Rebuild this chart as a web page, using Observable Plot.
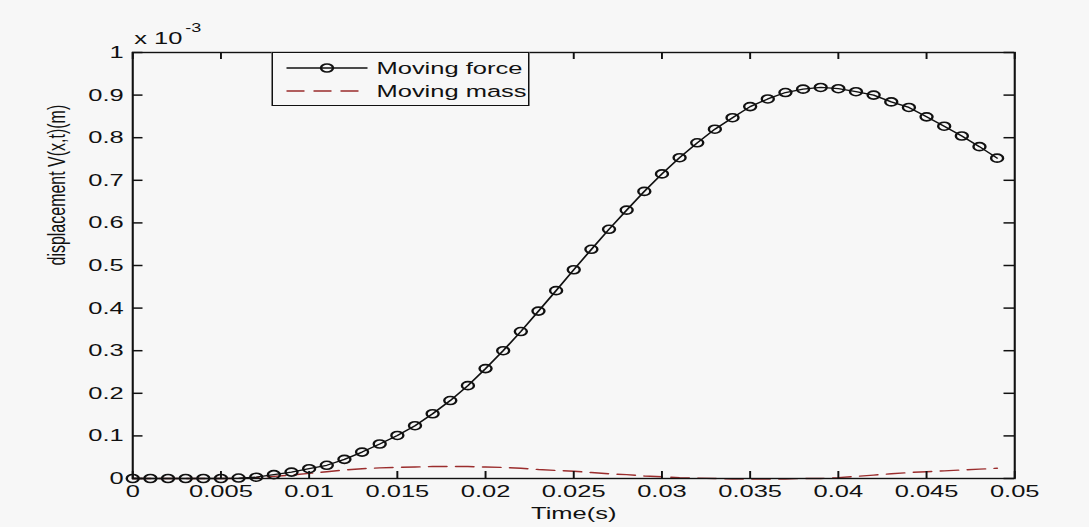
<!DOCTYPE html>
<html>
<head>
<meta charset="utf-8">
<script src="https://cdn.jsdelivr.net/npm/d3@7"></script>
<script src="https://cdn.jsdelivr.net/npm/@observablehq/plot@0.6"></script>
<style>
  html, body { margin: 0; padding: 0; background: #f7f7f7; overflow: hidden; }
  #wrap { position: relative; width: 726px; height: 527px; transform: scaleX(1.5); transform-origin: 0 0;
          font-family: "Liberation Sans", Arial, sans-serif; }
  #legend { position: absolute; box-sizing: border-box; border: 1.4px solid #111; background: #f7f7f7; }
</style>
</head>
<body>
<div id="wrap"></div>
<script>
// Time axis (s)
const time = [0, 0.001, 0.002, 0.003, 0.004, 0.005, 0.006, 0.007, 0.008, 0.009,
  0.010, 0.011, 0.012, 0.013, 0.014, 0.015, 0.016, 0.017, 0.018, 0.019,
  0.020, 0.021, 0.022, 0.023, 0.024, 0.025, 0.026, 0.027, 0.028, 0.029,
  0.030, 0.031, 0.032, 0.033, 0.034, 0.035, 0.036, 0.037, 0.038, 0.039,
  0.040, 0.041, 0.042, 0.043, 0.044, 0.045, 0.046, 0.047, 0.048, 0.049];

// Displacement, in units of 1e-3 m
const movingForce = [0.000, 0.000, 0.000, 0.000, 0.000, 0.000, 0.001, 0.003, 0.009, 0.015,
  0.023, 0.031, 0.045, 0.062, 0.081, 0.101, 0.124, 0.152, 0.183, 0.218,
  0.258, 0.300, 0.345, 0.393, 0.441, 0.490, 0.538, 0.585, 0.630, 0.674,
  0.715, 0.753, 0.788, 0.820, 0.847, 0.873, 0.891, 0.906, 0.914, 0.918,
  0.915, 0.908, 0.900, 0.884, 0.871, 0.849, 0.827, 0.804, 0.779, 0.752];

const movingMass = [0.000, 0.000, 0.000, 0.000, 0.000, 0.000, 0.000, 0.002, 0.005, 0.008,
  0.012, 0.016, 0.020, 0.023, 0.025, 0.026, 0.027, 0.028, 0.028, 0.028,
  0.027, 0.026, 0.024, 0.021, 0.019, 0.017, 0.014, 0.011, 0.009, 0.006,
  0.004, 0.002, 0.001, 0.000, -0.001, -0.001, -0.001, -0.001, 0.000, 0.000,
  0.002, 0.005, 0.008, 0.011, 0.014, 0.016, 0.018, 0.020, 0.022, 0.024];

const xTicks = [0, 0.005, 0.01, 0.015, 0.02, 0.025, 0.03, 0.035, 0.04, 0.045, 0.05];
const yTicks = [0, 0.1, 0.2, 0.3, 0.4, 0.5, 0.6, 0.7, 0.8, 0.9, 1];
const seriesNames = ["Moving force", "Moving mass"];
const xLabel = "Time(s)";
const yLabel = "displacement V(x,t)(m)";
const exponentBase = "x 10";
const exponent = "-3";

const forceData = time.map((t, i) => ({t, v: movingForce[i]}));
const massData = time.map((t, i) => ({t, v: movingMass[i]}));

const W = 726, H = 527, mL = 88, mR = 50, mT = 52, mB = 49;
const innerW = W - mL - mR, innerH = H - mT - mB;
const tickLen = 7;
const ink = "#111";
const massColor = "#9b2d2d";

const chart = Plot.plot({
  width: W, height: H,
  marginLeft: mL, marginRight: mR, marginTop: mT, marginBottom: mB,
  style: {background: "transparent", fontFamily: "'Liberation Sans', Arial, sans-serif", fontSize: "17px", color: ink, overflow: "visible"},
  x: {domain: [0, 0.05]},
  y: {domain: [0, 1]},
  marks: [
    Plot.line(massData, {x: "t", y: "v", stroke: massColor, strokeWidth: 1.4, strokeDasharray: "12,6"}),
    Plot.line(forceData, {x: "t", y: "v", stroke: ink, strokeWidth: 1.3}),
    Plot.dot(forceData, {x: "t", y: "v", r: 4, stroke: ink, strokeWidth: 1.6, fill: "none"}),
    Plot.tickX(xTicks, {x: d => d, insetTop: innerH - tickLen, stroke: ink, strokeWidth: 1.3}),
    Plot.tickX(xTicks, {x: d => d, insetBottom: innerH - tickLen, stroke: ink, strokeWidth: 1.3}),
    Plot.tickY(yTicks, {y: d => d, insetRight: innerW - tickLen, stroke: ink, strokeWidth: 1.5}),
    Plot.tickY(yTicks, {y: d => d, insetLeft: innerW - tickLen, stroke: ink, strokeWidth: 1.5}),
    Plot.frame({stroke: ink, strokeWidth: 1.4}),
    Plot.axisX({ticks: xTicks, tickSize: 0, tickPadding: 6, tickFormat: d => String(d), label: null}),
    Plot.axisY({ticks: yTicks, tickSize: 0, tickPadding: 6, tickFormat: d => String(d), label: null}),
    Plot.text([xLabel], {frameAnchor: "bottom", dy: 35, lineAnchor: "middle", fontSize: 17, fill: ink}),
    Plot.text([yLabel], {frameAnchor: "left", rotate: -90, dx: -50, lineAnchor: "middle", fontSize: 16, fill: ink}),
    Plot.text([exponentBase], {frameAnchor: "top-left", textAnchor: "start", dx: 1, dy: -9, lineAnchor: "bottom", fontSize: 17, fill: ink}),
    Plot.text([exponent], {frameAnchor: "top-left", textAnchor: "start", dx: 35, dy: -21, lineAnchor: "bottom", fontSize: 12, fill: ink})
  ]
});

const wrap = document.getElementById("wrap");
wrap.appendChild(chart);

// Legend (box inside the plot frame, top-left area)
const legW = 172, legH = 54, rowY = [16, 39];
const legend = d3.select(wrap).append("div").attr("id", "legend")
  .style("left", "181px").style("top", mT + "px")
  .style("width", legW + "px").style("height", legH + "px");
const lsvg = legend.append("svg").attr("width", legW).attr("height", legH)
  .style("position", "absolute").style("left", "-1px").style("top", "-1px").style("overflow", "visible");
const rows = lsvg.selectAll("g").data(seriesNames).join("g")
  .attr("transform", (d, i) => `translate(0,${rowY[i]})`);
rows.append("line").attr("x1", 10).attr("x2", 64).attr("y1", 0).attr("y2", 0)
  .attr("stroke", (d, i) => i === 0 ? ink : massColor)
  .attr("stroke-width", (d, i) => i === 0 ? 1.3 : 1.4)
  .attr("stroke-dasharray", (d, i) => i === 0 ? null : "12,6");
rows.filter((d, i) => i === 0).append("circle").attr("cx", 37).attr("cy", 0).attr("r", 4)
  .attr("fill", "none").attr("stroke", ink).attr("stroke-width", 1.6);
rows.append("text").attr("x", 70).attr("y", 0).attr("dy", "0.35em")
  .attr("font-size", 17).attr("fill", ink)
  .attr("font-family", "'Liberation Sans', Arial, sans-serif")
  .text(d => d);
</script>
</body>
</html>
